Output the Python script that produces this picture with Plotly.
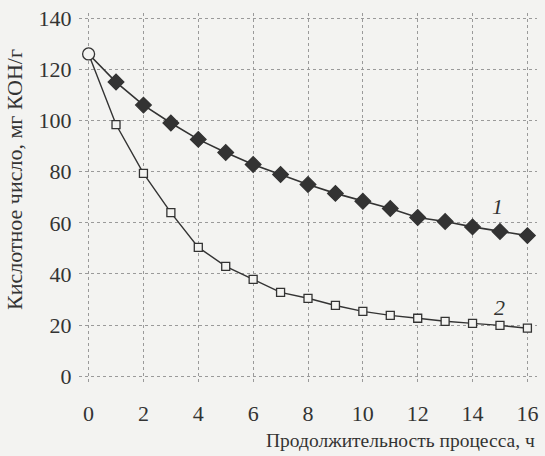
import plotly.graph_objects as go

hours = list(range(0, 17))
acid_1 = [126, 115, 106, 99, 92.6, 87.5, 82.8, 78.9, 75, 71.5, 68.4, 65.6, 62.1, 60.5, 58.4, 56.6, 55]
acid_2 = [126, 98.4, 79.3, 64, 50.4, 43, 37.9, 32.8, 30.5, 27.7, 25.4, 23.8, 22.7, 21.5, 20.7, 19.9, 18.8]
x_ticks = [0, 2, 4, 6, 8, 10, 12, 14, 16]
y_ticks = [0, 20, 40, 60, 80, 100, 120, 140]
curve_labels = ["1", "2"]
label_pos = [(14.9, 66.5), (15.0, 27)]

ink = "#333333"
bg = "#f3f3f1"
font_family = "Liberation Serif"

sym1 = ["circle"] + ["diamond"] * (len(hours) - 1)
sym2 = ["circle"] + ["square"] * (len(hours) - 1)

fig = go.Figure()
fig.add_trace(go.Scatter(
    x=hours, y=acid_2, mode="lines+markers",
    line=dict(color=ink, width=1.4),
    marker=dict(symbol=sym2, size=8, color=bg, line=dict(color=ink, width=1.3)),
    showlegend=False,
))
fig.add_trace(go.Scatter(
    x=hours, y=acid_1, mode="lines+markers",
    line=dict(color=ink, width=1.6),
    marker=dict(symbol=sym1, size=12, color=[bg] + [ink] * (len(hours) - 1),
                line=dict(color=ink, width=1.3)),
    showlegend=False,
))

for txt, (lx, ly) in zip(curve_labels, label_pos):
    fig.add_annotation(x=lx, y=ly, text=f"<i>{txt}</i>", showarrow=False,
                       font=dict(family=font_family, size=22, color=ink))

fig.add_annotation(xref="paper", yref="paper", x=-0.1397, y=0.55,
                   xanchor="center", yanchor="middle",
                   text="Кислотное число, мг КОН/г", textangle=-90, showarrow=False,
                   font=dict(family=font_family, size=22, color=ink))
fig.add_annotation(xref="paper", yref="paper", x=1.0, y=-0.151, xanchor="right",
                   yanchor="middle",
                   text="Продолжительность процесса, ч", showarrow=False,
                   font=dict(family=font_family, size=19.5, color=ink))

fig.update_xaxes(range=[-0.35, 16.35], tickvals=x_ticks, showgrid=True,
                 gridcolor="#9a9a9a", griddash="dot", gridwidth=1, zeroline=False,
                 showline=False, ticks="outside", ticklen=10, tickcolor="rgba(0,0,0,0)",
                 automargin=False, ticklabeloverflow="allow",
                 tickfont=dict(family=font_family, size=22, color=ink))
fig.update_yaxes(range=[-3, 142], tickvals=y_ticks, showgrid=True,
                 gridcolor="#9a9a9a", griddash="dot", gridwidth=1, zeroline=False,
                 showline=False, ticks="outside", ticklen=2, tickcolor="rgba(0,0,0,0)",
                 automargin=False, ticklabeloverflow="allow",
                 tickfont=dict(family=font_family, size=22, color=ink))

fig.update_layout(width=545, height=456,
                  margin=dict(l=79, r=8, t=13, b=72),
                  paper_bgcolor=bg, plot_bgcolor=bg)

fig.write_html("out.html", config={"displayModeBar": False},
               post_script="document.body.style.margin='0';document.body.style.background='%s';" % bg)
